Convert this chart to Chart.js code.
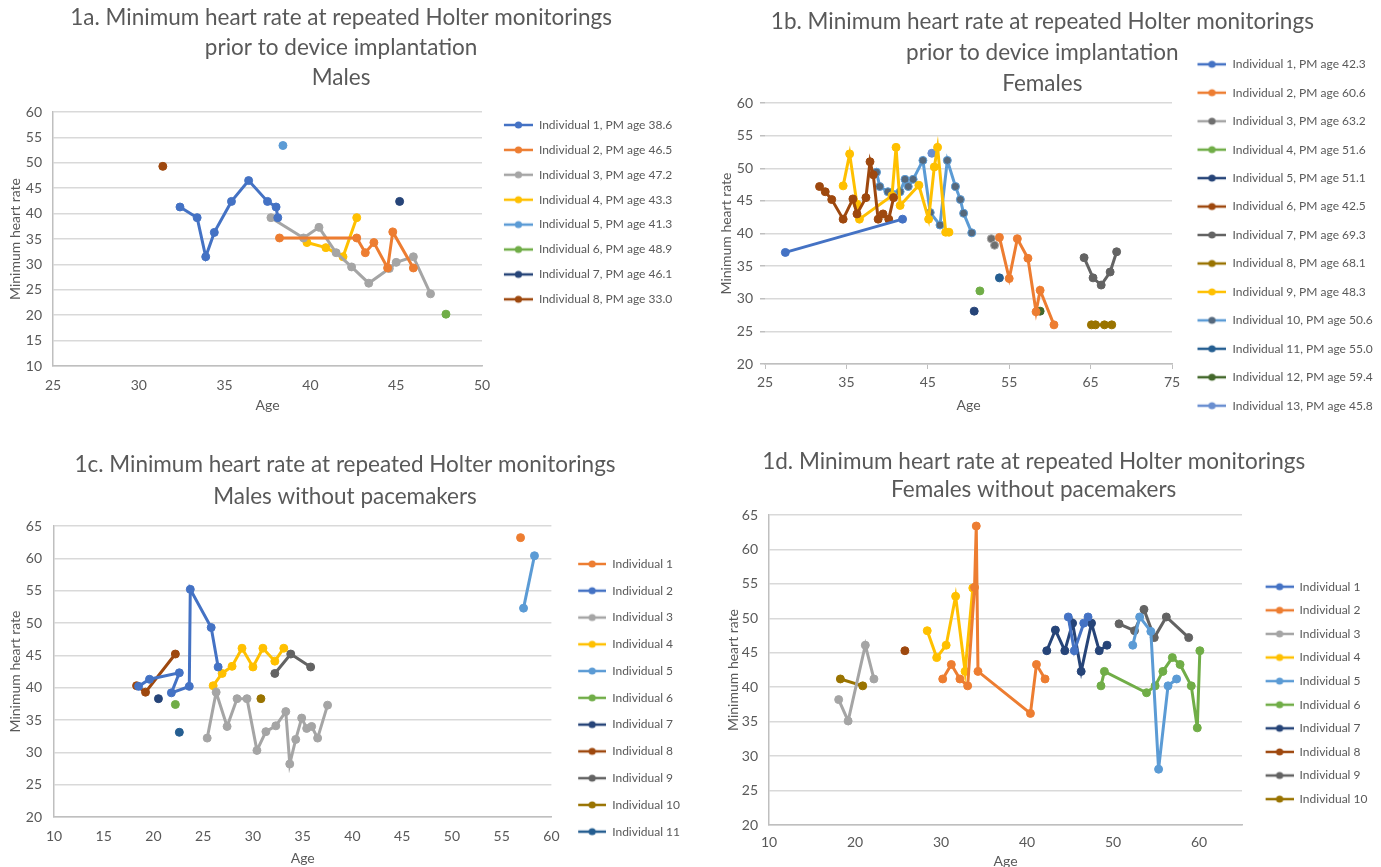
<!DOCTYPE html>
<html><head><meta charset="utf-8">
<script src="https://cdn.jsdelivr.net/npm/chart.js@4.4.0/dist/chart.umd.min.js"></script>
<style>
html,body{margin:0;padding:0;background:#fff;overflow:hidden;width:1381px;height:867px;position:relative;}
canvas{position:absolute;}
</style>
</head><body>
<canvas id="cA"></canvas><canvas id="cB"></canvas><canvas id="cC"></canvas><canvas id="cD"></canvas>
<script>
// ---------- DATA ----------
// 1a. Males, prior to device implantation
const aLabels = ['Individual 1, PM age 38.6','Individual 2, PM age 46.5','Individual 3, PM age 47.2','Individual 4, PM age 43.3','Individual 5, PM age 41.3','Individual 6, PM age 48.9','Individual 7, PM age 46.1','Individual 8, PM age 33.0'];
const aAges = [
  [32.4,33.4,33.9,34.4,35.4,36.4,37.5,38.0,38.1],
  [38.2,42.7,43.2,43.7,44.5,44.8,46.0],
  [37.7,39.6,40.5,41.5,42.4,43.4,44.6,45.0,46.0,47.0],
  [39.8,40.9,41.9,42.7],
  [38.4],[47.9],[45.2],[31.4]
];
const aHR = [
  [41.3,39.2,31.5,36.3,42.4,46.5,42.4,41.3,39.2],
  [35.2,35.2,32.3,34.3,29.3,36.4,29.3],
  [39.2,35.2,37.3,32.3,29.5,26.3,29.2,30.4,31.5,24.2],
  [34.3,33.3,31.5,39.2],
  [53.4],[20.2],[42.4],[49.3]
];
// 1b. Females, prior to device implantation
const bLabels = ['Individual 1, PM age 42.3','Individual 2, PM age 60.6','Individual 3, PM age 63.2','Individual 4, PM age 51.6','Individual 5, PM age 51.1','Individual 6, PM age 42.5','Individual 7, PM age 69.3','Individual 8, PM age 68.1','Individual 9, PM age 48.3','Individual 10, PM age 50.6','Individual 11, PM age 55.0','Individual 12, PM age 59.4','Individual 13, PM age 45.8'];
const bAges = [
  [27.5,41.9],
  [53.8,55.0,56.0,57.3,58.3,58.8,60.5],
  [52.8,53.2],
  [51.4],
  [50.7],
  [31.7,32.4,33.2,34.6,35.8,36.3,37.4,37.9,38.3,38.9,39.5,40.2,40.8],
  [64.2,65.3,66.3,67.4,68.2],
  [65.1,65.6,66.7,67.6],
  [34.6,35.4,36.3,36.6,40.6,41.1,41.6,43.9,45.1,45.8,46.2,47.2,47.6],
  [38.7,39.1,40.1,41.6,42.2,42.6,43.2,44.4,45.3,46.5,47.4,48.4,49.0,49.4,50.4],
  [53.8],[58.8],[45.5]
];
const bHR = [
  [37.1,42.2],
  [39.4,33.1,39.2,36.2,28.0,31.3,26.0],
  [39.2,38.2],
  [31.2],
  [28.1],
  [47.2,46.4,45.2,42.2,45.3,43.0,45.5,51.0,49.0,42.2,43.0,42.2,45.5],
  [36.3,33.2,32.1,34.1,37.2],
  [26.0,26.0,26.0,26.0],
  [47.3,52.2,44.5,42.2,45.8,53.2,44.3,47.4,42.2,50.2,53.2,40.2,40.2],
  [49.4,47.2,46.4,46.4,48.3,47.2,48.3,51.2,43.2,41.3,51.2,47.2,45.2,43.1,40.1],
  [33.2],[28.1],[52.3]
];
// 1c. Males without pacemakers
const cLabels = ['Individual 1','Individual 2','Individual 3','Individual 4','Individual 5','Individual 6','Individual 7','Individual 8','Individual 9','Individual 10','Individual 11'];
const cAges = [
  [56.9],
  [18.5,19.6,22.6,21.8,23.6,23.7,25.8,26.5],
  [25.4,26.3,27.4,28.4,29.4,30.4,31.3,32.3,33.3,33.7,34.3,34.9,35.4,35.9,36.5,37.5],
  [26.0,26.9,27.9,28.9,30.0,31.0,32.2,33.1],
  [57.2,58.3],
  [22.2],[20.5],
  [18.3,19.2,22.2],
  [32.2,33.8,35.8],
  [30.8],[22.6]
];
const cHR = [
  [63.2],
  [40.2,41.3,42.3,39.2,40.2,55.2,49.3,43.2],
  [32.2,39.3,34.0,38.3,38.3,30.3,33.2,34.1,36.3,28.2,32.0,35.3,33.7,34.0,32.2,37.3],
  [40.3,42.2,43.3,46.1,43.2,46.1,44.1,46.1],
  [52.3,60.4],
  [37.4],[38.3],
  [40.3,39.3,45.2],
  [42.2,45.2,43.2],
  [38.3],[33.1]
];
// 1d. Females without pacemakers
const dLabels = ['Individual 1','Individual 2','Individual 3','Individual 4','Individual 5','Individual 6','Individual 7','Individual 8','Individual 9','Individual 10'];
const dAges = [
  [44.8,45.5,46.6,47.1],
  [30.2,31.2,32.2,33.1,33.9,34.1,34.3,40.4,41.1,42.1],
  [18.1,19.2,21.2,22.2],
  [28.4,29.5,30.6,31.7,32.8,33.7],
  [52.3,53.1,54.4,55.3,56.4,57.4],
  [48.6,49.0,53.9,54.9,55.8,56.9,57.8,59.1,59.8,60.1],
  [42.3,43.3,44.4,45.3,46.3,47.5,48.4,49.3],
  [25.8],
  [50.7,52.5,53.6,54.8,56.2,58.8],
  [18.3,20.9]
];
const dHR = [
  [50.2,45.3,49.3,50.2],
  [41.2,43.3,41.2,40.2,54.5,63.4,42.3,36.2,43.3,41.2],
  [38.2,35.1,46.1,41.2],
  [48.2,44.3,46.1,53.2,42.3,54.4],
  [46.1,50.2,48.1,28.1,40.2,41.2],
  [40.2,42.3,39.2,40.2,42.3,44.3,43.3,40.2,34.1,45.3],
  [45.3,48.3,45.3,49.3,42.3,49.3,45.3,46.1],
  [45.3],
  [49.2,48.2,51.3,47.2,50.2,47.2],
  [41.2,40.2]
];

// ---------- STYLE ----------
const FONT = 'Lato, "Open Sans", "DejaVu Sans", sans-serif';
Chart.defaults.font.family = FONT;
Chart.defaults.color = '#595959';
const LEG_FS = 12, TICK_FS = 14, TITLE_FS = 22.5;
const COL = {blue:'#4472C4', orange:'#ED7D31', gray:'#A5A5A5', gold:'#FFC000', lblue:'#5B9BD5', green:'#70AD47', navy:'#264478', brown:'#9E480E', dgray:'#636363', olive:'#997300', dblue:'#255E91', dgreen:'#43682B', pblue:'#698ED0'};
const aColors = [COL.blue,COL.orange,COL.gray,COL.gold,COL.lblue,COL.green,COL.navy,COL.brown];
const bColors = [COL.blue,COL.orange,COL.gray,COL.green,COL.navy,COL.brown,COL.dgray,COL.olive,COL.gold,COL.lblue,COL.dblue,COL.dgreen,COL.pblue];
const bMarks = [null,null,'#6f6f6f',null,null,null,null,null,null,'#55687c',null,null,null];
const cColors = [COL.orange,COL.blue,COL.gray,COL.gold,COL.lblue,COL.green,COL.navy,COL.brown,COL.dgray,COL.olive,COL.dblue];
const dColors = [COL.blue,COL.orange,COL.gray,COL.gold,COL.lblue,COL.green,COL.navy,COL.brown,COL.dgray,COL.olive];

function legendIcon(line, fill, boxW, margin) {
  const c = document.createElement('canvas');
  c.width = boxW; c.height = 10;
  const g = c.getContext('2d');
  g.strokeStyle = line; g.lineWidth = 2.5;
  g.beginPath(); g.moveTo(margin, 5); g.lineTo(boxW, 5); g.stroke();
  g.beginPath(); g.arc(margin + (boxW - margin) / 2, 5, 3.6, 0, 2 * Math.PI);
  g.fillStyle = fill; g.fill();
  return c;
}

function panel(p) {
  const cv = document.getElementById(p.id);
  cv.width = p.w; cv.height = p.h;
  cv.style.left = p.left + 'px'; cv.style.top = p.top + 'px';
  const ctx = cv.getContext('2d');
  ctx.font = LEG_FS + 'px ' + FONT;
  const textW = Math.max(...p.labels.map(t => ctx.measureText(t).width));
  const lg = p.lg;
  const legendW = lg.pad + lg.boxW + LEG_FS / 2 + textW + 10;
  const padRight = Math.max(0, p.w - p.plotRight - legendW);
  const titleH = p.title.length * p.titleLH + p.titlePT;
  const icons = p.labels.map((l, i) => legendIcon(p.colors[i], (p.marks && p.marks[i]) || p.colors[i], lg.boxW, lg.margin));
  const datasets = p.labels.map((lab, i) => ({
    label: lab,
    data: p.ages[i].map((a, j) => ({x: a, y: p.hr[i][j]})),
    showLine: true,
    borderColor: p.colors[i],
    backgroundColor: p.colors[i],
    pointBackgroundColor: (p.marks && p.marks[i]) || p.colors[i],
    pointBorderColor: p.colors[i],
    pointBorderWidth: 1,
    pointRadius: 4,
    borderWidth: 3,
    tension: 0
  }));
  return new Chart(cv, {
    type: 'scatter',
    data: {datasets},
    options: {
      responsive: false, animation: false, devicePixelRatio: 1, events: [],
      layout: {padding: {left: 0, top: 0, bottom: 0, right: padRight}},
      plugins: {
        tooltip: {enabled: false},
        title: {display: true, text: p.title, color: '#595959',
          font: {size: TITLE_FS, weight: 'normal', lineHeight: p.titleLH / TITLE_FS},
          padding: {top: p.titlePT, bottom: Math.max(0, p.plotTop - titleH)}},
        legend: {display: true, position: 'right', align: 'start', maxWidth: 400,
          title: {display: true, text: '', padding: {top: lg.titleH - 10, bottom: 0}, font: {size: 10, lineHeight: 1}},
          labels: {usePointStyle: true, pointStyleWidth: lg.boxW, padding: lg.pad, color: '#595959', font: {size: LEG_FS},
            generateLabels(chart) {
              const items = Chart.defaults.plugins.legend.labels.generateLabels(chart);
              items.forEach(it => { it.pointStyle = icons[it.datasetIndex]; });
              return items;
            }}}
      },
      scales: {
        x: {type: 'linear', min: p.xMin, max: p.xMax,
          afterFit: s => { s.height = p.h - p.plotBottom; },
          ticks: {stepSize: p.xStep, padding: p.xTickPad, includeBounds: false, color: '#595959', font: {size: TICK_FS}},
          grid: {display: p.tickMarks, drawOnChartArea: false, drawTicks: p.tickMarks, tickLength: 5, color: '#bfbfbf'},
          border: {display: true, color: '#bfbfbf', width: 1.5},
          title: {display: true, text: 'Age', color: '#595959', font: {size: TICK_FS}, padding: {top: 0, bottom: p.xTitlePB}}},
        y: {type: 'linear', min: p.yMin, max: p.yMax,
          afterFit: s => { s.width = p.plotLeft; },
          ticks: {stepSize: 5, padding: p.yTickPad, color: '#595959', font: {size: TICK_FS}},
          grid: {color: '#d9d9d9', lineWidth: 1.5, drawTicks: p.tickMarks, tickLength: 5, tickColor: '#bfbfbf'},
          border: {display: !p.tickMarks, color: '#bfbfbf', width: 1.5},
          title: {display: true, text: 'Minimum heart rate', color: '#595959', font: {size: TICK_FS}, padding: {top: p.yTitlePT, bottom: 0}}}
      }
    }
  });
}

panel({id: 'cA', left: 0, top: 0, w: 690, h: 430,
  title: ['1a. Minimum heart rate at repeated Holter monitorings', 'prior to device implantation', 'Males'],
  titleLH: 30, titlePT: 3, plotTop: 112, plotLeft: 53, plotRight: 482, plotBottom: 366,
  xMin: 25, xMax: 50, xStep: 5, yMin: 10, yMax: 60,
  xTickPad: 10.6, xTitlePB: 16.6, yTickPad: 11, yTitlePT: 6.6, tickMarks: false,
  labels: aLabels, ages: aAges, hr: aHR, colors: aColors,
  lg: {pad: 12.9, titleH: 106.1, boxW: 38, margin: 9}});

panel({id: 'cB', left: 702, top: 0, w: 691, h: 440,
  title: ['1b. Minimum heart rate at repeated Holter monitorings', 'prior to device implantation', 'Females'],
  titleLH: 31, titlePT: 6, plotTop: 103, plotLeft: 63, plotRight: 470, plotBottom: 364,
  xMin: 25, xMax: 75, xStep: 10, yMin: 20, yMax: 60,
  xTickPad: 5.3, xTitlePB: 26.6, yTickPad: 7, yTitlePT: 15.6, tickMarks: true,
  labels: bLabels, ages: bAges, hr: bHR, colors: bColors, marks: bMarks,
  lg: {pad: 16.45, titleH: 41.85, boxW: 38, margin: 9}});

panel({id: 'cC', left: 0, top: 440, w: 690, h: 427,
  title: ['1c. Minimum heart rate at repeated Holter monitorings', 'Males without pacemakers'],
  titleLH: 32, titlePT: 9, plotTop: 86, plotLeft: 54, plotRight: 554, plotBottom: 377,
  xMin: 10, xMax: 60, xStep: 5, yMin: 20, yMax: 65,
  xTickPad: 10.6, xTitlePB: 0, yTickPad: 12, yTitlePT: 6.6, tickMarks: false,
  labels: cLabels, ages: cAges, hr: cHR, colors: cColors,
  lg: {pad: 14.77, titleH: 103.2, boxW: 40, margin: 12}});

panel({id: 'cD', left: 690, top: 440, w: 691, h: 430,
  title: ['1d. Minimum heart rate at repeated Holter monitorings', 'Females without pacemakers'],
  titleLH: 28, titlePT: 8, plotTop: 75, plotLeft: 79, plotRight: 552, plotBottom: 385,
  xMin: 10, xMax: 65, xStep: 10, yMin: 20, yMax: 65,
  xTickPad: 8.6, xTitlePB: 0, yTickPad: 11, yTitlePT: 34.6, tickMarks: false,
  labels: dLabels, ages: dAges, hr: dHR, colors: dColors,
  lg: {pad: 11.6, titleH: 129.1, boxW: 40, margin: 12}});
</script>
</body></html>
